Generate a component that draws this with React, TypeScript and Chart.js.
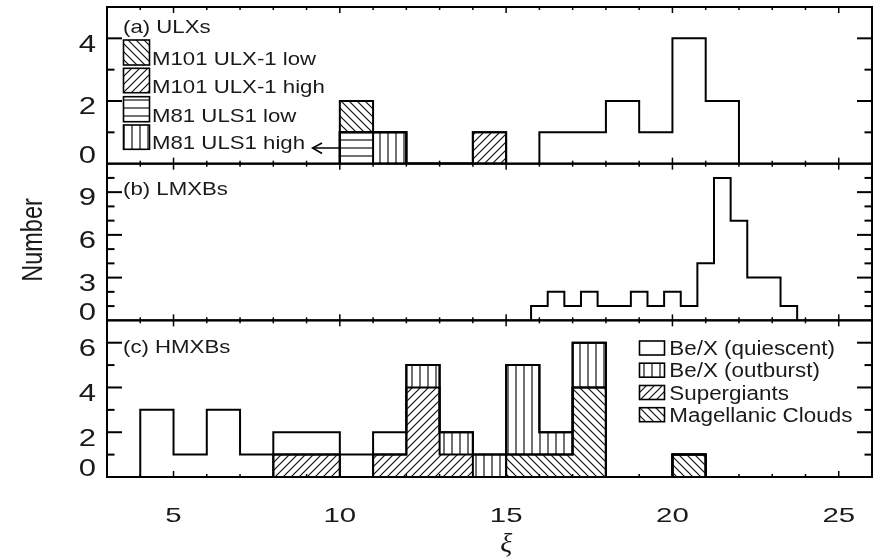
import React, { useEffect, useRef } from 'react';
import { Chart, registerables } from 'chart.js';

Chart.register(...registerables);

// ---------------- data ----------------
const X_MIN = 3;
const X_MAX = 26;
const xTickLabels = [5, 10, 15, 20, 25];

// (a) ULXs
const ulxCenters = [16.5, 17.5, 18.5, 19.5, 20.5, 21.5];
const ulxCounts = [1, 1, 2, 1, 4, 2];
const ulxHatchCenters = [10.5, 11.5, 12.5, 13.5, 14.5];
const m81Low = [1, 0, 0, 0, 0];
const m81High = [0, 1, 0, 0, 0];
const m101High = [0, 0, 0, 0, 1];
const m101Low = [1, 0, 0, 0, 0];
const yTicksA = [0, 2, 4];
const yMaxA = 5;

// (b) LMXBs
const lmxbCenters = [16, 16.5, 17, 17.5, 18, 18.5, 19, 19.5, 20, 20.5, 21, 21.5, 22, 22.5, 23, 23.5];
const lmxbCounts = [1, 2, 1, 2, 1, 1, 2, 1, 2, 1, 4, 10, 7, 3, 3, 1];
const yTicksB = [0, 3, 6, 9];
const yMaxB = 11;

// (c) HMXBs
const hmxbCenters = [4.5, 5.5, 6.5, 7.5, 8.5, 9.5, 10.5, 11.5, 12.5, 13.5, 14.5, 15.5, 16.5, 17.5, 18.5, 19.5, 20.5];
const magellanic = [0, 0, 0, 0, 0, 0, 0, 0, 0, 0, 0, 1, 1, 4, 0, 0, 1];
const supergiants = [0, 0, 0, 0, 1, 1, 0, 1, 4, 1, 0, 0, 0, 0, 0, 0, 0];
const beOutburst = [0, 0, 0, 0, 0, 0, 0, 0, 1, 1, 1, 4, 1, 2, 0, 0, 0];
const beQuiescent = [3, 1, 3, 1, 1, 1, 1, 1, 0, 0, 0, 0, 0, 0, 0, 0, 0];
const yTicksC = [0, 2, 4, 6];
const yMaxC = 7;

const legendA = ['M101 ULX-1 low', 'M101 ULX-1 high', 'M81 ULS1 low', 'M81 ULS1 high'];
const legendC = ['Be/X (quiescent)', 'Be/X (outburst)', 'Supergiants', 'Magellanic Clouds'];

// ---------------- helpers ----------------
type Pt = { x: number; y: number };

function stepPoints(centers: number[], values: number[], width: number): Pt[] {
  const pts: Pt[] = [{ x: centers[0] - width / 2, y: 0 }];
  centers.forEach((c, i) => pts.push({ x: c - width / 2, y: values[i] }));
  pts.push({ x: centers[centers.length - 1] + width / 2, y: 0 });
  return pts;
}

function cumulate(layers: number[][]): number[][] {
  const out: number[][] = [];
  let acc = layers[0].map(() => 0);
  layers.forEach((l) => {
    acc = acc.map((v, i) => v + l[i]);
    out.push(acc.slice());
  });
  return out;
}

function mkPattern(ctx: CanvasRenderingContext2D, kind: string): CanvasPattern {
  const s = 8;
  const c = document.createElement('canvas');
  c.width = s;
  c.height = s;
  const g = c.getContext('2d')!;
  g.strokeStyle = '#111';
  g.lineWidth = 1.2;
  g.beginPath();
  if (kind === 'vert') {
    g.moveTo(s / 2, 0);
    g.lineTo(s / 2, s);
  } else if (kind === 'horiz') {
    g.moveTo(0, s / 2);
    g.lineTo(s, s / 2);
  } else if (kind === 'fwd') {
    g.moveTo(-1, s + 1);
    g.lineTo(s + 1, -1);
    g.moveTo(-1, 1);
    g.lineTo(1, -1);
    g.moveTo(s - 1, s + 1);
    g.lineTo(s + 1, s - 1);
  } else {
    g.moveTo(-1, -1);
    g.lineTo(s + 1, s + 1);
    g.moveTo(-1, s - 1);
    g.lineTo(1, s + 1);
    g.moveTo(s - 1, -1);
    g.lineTo(s + 1, 1);
  }
  g.stroke();
  return ctx.createPattern(c, 'repeat')!;
}

function drawText(
  ctx: CanvasRenderingContext2D,
  s: string,
  x: number,
  y: number,
  size: number,
  align: CanvasTextAlign,
  sx: number,
  family = '"Liberation Sans", Arial, sans-serif',
  style = ''
) {
  ctx.save();
  ctx.font = `${style} ${size}px ${family}`;
  ctx.textAlign = align;
  ctx.textBaseline = 'alphabetic';
  ctx.translate(x, y);
  ctx.scale(sx, 1);
  ctx.fillText(s, 0, 0);
  ctx.restore();
}

export default function App() {
  const ref = useRef<HTMLCanvasElement | null>(null);

  useEffect(() => {
    const canvas = ref.current!;
    const ctx = canvas.getContext('2d')!;
    const pat = {
      back: mkPattern(ctx, 'back'),
      fwd: mkPattern(ctx, 'fwd'),
      vert: mkPattern(ctx, 'vert'),
      horiz: mkPattern(ctx, 'horiz'),
    };

    const base = {
      type: 'line' as const,
      stepped: true,
      pointRadius: 0,
      borderColor: '#000',
      borderWidth: 2,
      xAxisID: 'x',
    };

    const cumA = cumulate([m81Low, m81High, m101High, m101Low]);
    const patA = [pat.horiz, pat.vert, pat.fwd, pat.back];
    const cumC = cumulate([magellanic, supergiants, beOutburst, beQuiescent]);
    const patC = [pat.back, pat.fwd, pat.vert, null];

    const datasets: any[] = [];
    cumA.forEach((vals, i) =>
      datasets.push({
        ...base,
        label: 'A' + i,
        yAxisID: 'yA',
        data: stepPoints(ulxHatchCenters, vals, 1),
        fill: i === 0 ? 'origin' : '-1',
        backgroundColor: patA[i],
      })
    );
    datasets.push({
      ...base,
      label: 'ULX',
      yAxisID: 'yA',
      data: stepPoints(ulxCenters, ulxCounts, 1),
      fill: false,
    });
    datasets.push({
      ...base,
      label: 'LMXB',
      yAxisID: 'yB',
      data: stepPoints(lmxbCenters, lmxbCounts, 0.5),
      fill: false,
    });
    cumC.forEach((vals, i) =>
      datasets.push({
        ...base,
        label: 'C' + i,
        yAxisID: 'yC',
        data: stepPoints(hmxbCenters, vals, 1),
        fill: patC[i] ? (i === 0 ? 'origin' : '-1') : false,
        backgroundColor: patC[i] || 'rgba(0,0,0,0)',
      })
    );

    const panels = [
      { id: 'yA', max: yMaxA, ticks: yTicksA },
      { id: 'yB', max: yMaxB, ticks: yTicksB },
      { id: 'yC', max: yMaxC, ticks: yTicksC },
    ];

    const deco = {
      id: 'deco',
      afterDraw(chart: any) {
        const c: CanvasRenderingContext2D = chart.ctx;
        const xs = chart.scales.x;
        const L = chart.chartArea.left;
        const R = chart.chartArea.right;
        const seg = (x1: number, y1: number, x2: number, y2: number) => {
          c.beginPath();
          c.moveTo(x1, y1);
          c.lineTo(x2, y2);
          c.stroke();
        };
        c.save();
        c.strokeStyle = '#000';
        c.fillStyle = '#1a1a1a';
        panels.forEach((p) => {
          const s = chart.scales[p.id];
          const top = s.top;
          const bot = s.bottom;
          c.lineWidth = 2;
          for (let v = 1; v < p.max; v++) {
            const y = s.getPixelForValue(v);
            const len = p.ticks.includes(v) ? 15 : 7.5;
            seg(L, y, L + len, y);
            seg(R - len, y, R, y);
          }
          c.lineWidth = 1.5;
          for (let v = Math.floor(X_MIN) + 1; v < X_MAX; v++) {
            const x = xs.getPixelForValue(v);
            const len = v % 5 === 0 ? 6 : 3;
            seg(x, top, x, top + len);
            seg(x, bot - len, x, bot);
          }
          c.lineWidth = 2;
          c.strokeRect(L, top, R - L, bot - top);
          p.ticks.forEach((v) => {
            const y = s.getPixelForValue(v);
            const yc = v === 0 ? y - 9 : y + 5;
            drawText(c, String(v), 96, yc + 8.3, 23, 'right', 1.35);
          });
        });
        // x tick labels
        const sC = chart.scales.yC;
        xTickLabels.forEach((v) => {
          drawText(c, String(v), xs.getPixelForValue(v), sC.bottom + 37 + 7.5, 21, 'center', 1.4);
        });
        // axis titles
        c.save();
        c.translate(31, 240);
        c.rotate(-Math.PI / 2);
        c.scale(1, 1.28);
        c.font = '23.5px "Liberation Sans", Arial, sans-serif';
        c.textAlign = 'center';
        c.textBaseline = 'alphabetic';
        c.fillText('Number', 0, 8.5);
        c.restore();
        drawText(c, 'ξ', xs.getPixelForValue(15), 552, 28, 'center', 1, '"Liberation Serif", "DejaVu Serif", serif', 'italic');

        // panel labels
        drawText(c, '(a) ULXs', 123, 33, 18.5, 'left', 1.2);
        drawText(c, '(b) LMXBs', 123, 195, 18.5, 'left', 1.2);
        drawText(c, '(c) HMXBs', 123, 352.7, 18.5, 'left', 1.2);

        // legend (a)
        const patLegA = [pat.back, pat.fwd, pat.horiz, pat.vert];
        const boxA = [
          [40, 65],
          [68.3, 92.7],
          [96.7, 121.7],
          [125, 149.3],
        ];
        legendA.forEach((t, i) => {
          const [y0, y1] = boxA[i];
          c.fillStyle = patLegA[i];
          c.fillRect(123.5, y0, 26, y1 - y0);
          c.lineWidth = 1.6;
          c.strokeRect(123.5, y0, 26, y1 - y0);
          c.fillStyle = '#1a1a1a';
          drawText(c, t, 152, y1, 18.5, 'left', 1.2);
        });
        // arrow
        const sA = chart.scales.yA;
        const ay = sA.getPixelForValue(0.5);
        const tipX = xs.getPixelForValue(9.18);
        c.lineWidth = 1.5;
        seg(xs.getPixelForValue(10), ay, tipX, ay);
        c.beginPath();
        c.moveTo(tipX + 9.5, ay - 5);
        c.lineTo(tipX, ay);
        c.lineTo(tipX + 9.5, ay + 5.5);
        c.stroke();

        // legend (c)
        const patLegC: (CanvasPattern | null)[] = [null, pat.vert, pat.fwd, pat.back];
        const baseC = [355, 377.2, 399.5, 421.7];
        legendC.forEach((t, i) => {
          const y1 = baseC[i];
          const y0 = y1 - 14;
          if (patLegC[i]) {
            c.fillStyle = patLegC[i] as CanvasPattern;
            c.fillRect(639.5, y0, 25, 14);
          }
          c.lineWidth = 1.6;
          c.strokeRect(639.5, y0, 25, 14);
          c.fillStyle = '#1a1a1a';
          drawText(c, t, 669.3, y1, 20, 'left', 1.12);
        });
        c.restore();
      },
    };

    const chart = new Chart(canvas, {
      type: 'line',
      data: { datasets },
      options: {
        animation: false,
        responsive: false,
        devicePixelRatio: 1,
        layout: { padding: { left: 107, right: 11, top: 7, bottom: 82 } },
        plugins: { legend: { display: false }, tooltip: { enabled: false } },
        scales: {
          x: { type: 'linear', min: X_MIN, max: X_MAX, display: false },
          yA: { type: 'linear', position: 'left', min: 0, max: yMaxA, stack: 'panels', stackWeight: 1, weight: 3, display: false },
          yB: { type: 'linear', position: 'left', min: 0, max: yMaxB, stack: 'panels', stackWeight: 1, weight: 2, display: false },
          yC: { type: 'linear', position: 'left', min: 0, max: yMaxC, stack: 'panels', stackWeight: 1, weight: 1, display: false },
        },
      } as any,
      plugins: [deco],
    });
    return () => chart.destroy();
  }, []);

  return (
    <div style={{ position: 'absolute', left: 0, top: 0, width: 883, height: 559, background: '#fff' }}>
      <canvas ref={ref} width={883} height={559} style={{ width: 883, height: 559, display: 'block' }} />
    </div>
  );
}
